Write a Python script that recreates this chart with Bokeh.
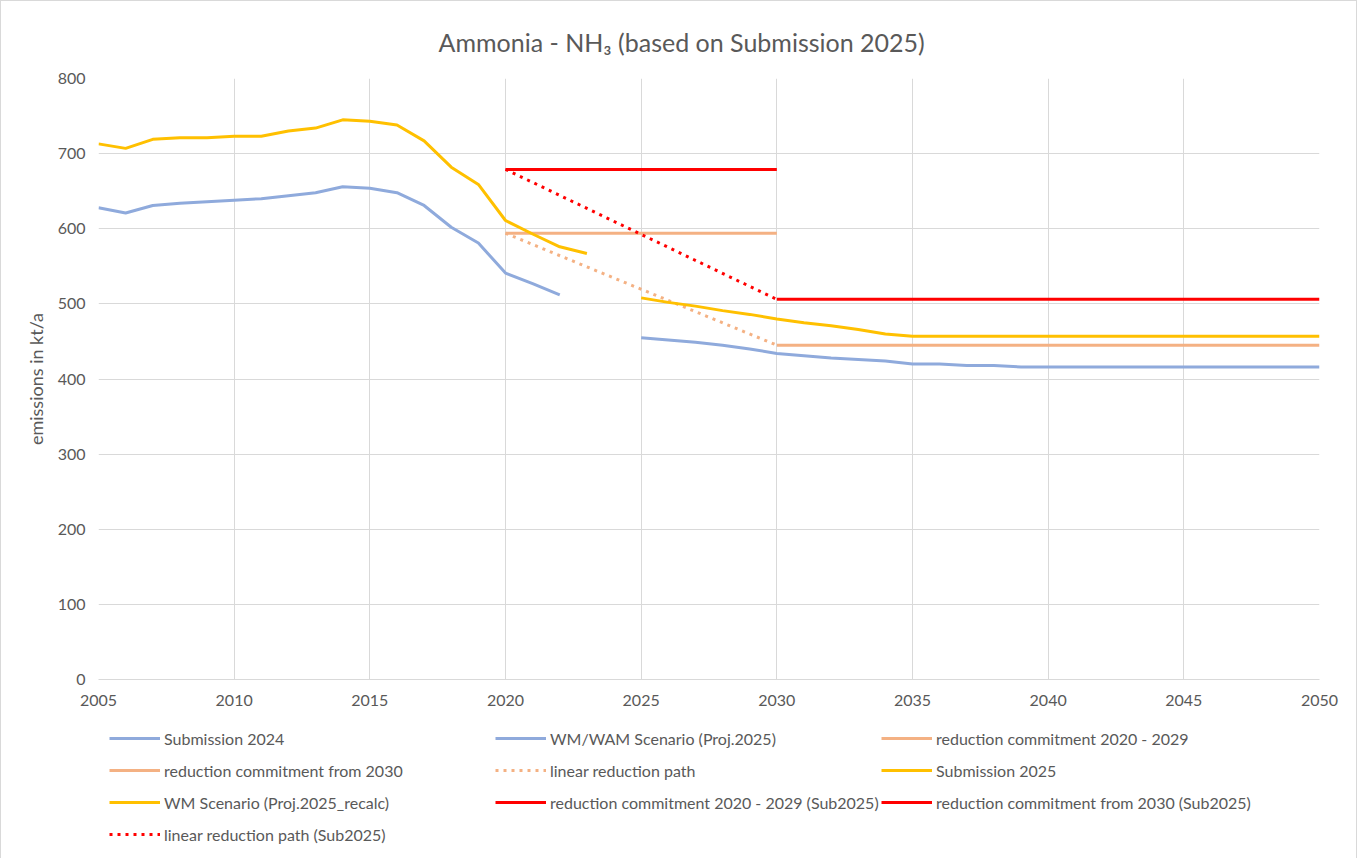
from bokeh.plotting import figure
from bokeh.layouts import column
from bokeh.models import Range1d, FixedTicker, Legend, LegendItem, Title
from bokeh.embed import file_html
from bokeh.resources import INLINE

# ---- data ----
years_sub2024 = list(range(2005, 2023))
sub2024 = [628, 621, 631, 634, 636, 638, 640, 644, 648, 656, 654, 648, 631, 602, 581, 541, 527, 512]

years_sub2025 = list(range(2005, 2024))
sub2025 = [713, 707, 719, 721, 721, 723, 723, 730, 734, 745, 743, 738, 717, 682, 659, 611, 593, 576, 567]

years_proj = list(range(2025, 2051))
wm_wam = [455, 452, 449, 445, 440, 434, 431, 428, 426, 424, 420, 420, 418, 418, 416, 416,
          416, 416, 416, 416, 416, 416, 416, 416, 416, 416]
wm_recalc = [508, 502, 497, 491, 486, 480, 475, 471, 466, 460, 457, 457, 457, 457, 457, 457,
             457, 457, 457, 457, 457, 457, 457, 457, 457, 457]

rc_2020_years = [2020, 2030]
rc_2020 = [594, 594]
rc_2030_years = [2030, 2050]
rc_2030 = [445, 445]
lin_years = [2020, 2030]
lin_path = [594, 445]

rc_2020_sub25 = [679, 679]
rc_2030_sub25 = [506, 506]
lin_path_sub25 = [679, 506]

x_ticks = [2005, 2010, 2015, 2020, 2025, 2030, 2035, 2040, 2045, 2050]
y_ticks = [0, 100, 200, 300, 400, 500, 600, 700, 800]

title_text = "Ammonia - NH\u2083 (based on Submission 2025)"

labels = ["Submission 2024", "WM/WAM Scenario (Proj.2025)", "reduction commitment 2020 - 2029",
          "reduction commitment from 2030", "linear reduction path", "Submission 2025",
          "WM Scenario (Proj.2025_recalc)", "reduction commitment 2020 - 2029 (Sub2025)",
          "reduction commitment from 2030 (Sub2025)", "linear reduction path (Sub2025)"]

BLUE = "#8FAADC"
ORANGE = "#F4B183"
YELLOW = "#FFC000"
RED = "#FF0000"
GRAY = "#595959"
GRID = "#D9D9D9"
FONT = "Lato"
W = 3
DOT = "3 5"

styles = [(BLUE, None), (BLUE, None), (ORANGE, None), (ORANGE, None), (ORANGE, DOT),
          (YELLOW, None), (YELLOW, None), (RED, None), (RED, None), (RED, DOT)]

# ---- main chart ----
p = figure(frame_width=1221, frame_height=601,
           min_border_left=97, min_border_right=37, min_border_top=77, min_border_bottom=40,
           x_range=Range1d(2005, 2050), y_range=Range1d(0, 800),
           output_backend="svg", toolbar_location=None)
p.outline_line_color = None

p.add_layout(Title(text=title_text, align="left", offset=340, standoff=44,
                   text_font=FONT, text_font_size="25px", text_font_style="normal",
                   text_color=GRAY), "above")

p.xaxis.ticker = FixedTicker(ticks=x_ticks)
p.yaxis.ticker = FixedTicker(ticks=y_ticks)
p.xgrid.ticker = FixedTicker(ticks=x_ticks)
p.ygrid.ticker = FixedTicker(ticks=y_ticks)
p.xgrid.grid_line_color = GRID
p.ygrid.grid_line_color = GRID

for ax in (p.xaxis, p.yaxis):
    ax.major_tick_line_color = None
    ax.minor_tick_line_color = None
    ax.major_label_text_font = FONT
    ax.major_label_text_font_size = "16px"
    ax.major_label_text_color = GRAY
p.xaxis.axis_line_color = GRID
p.yaxis.axis_line_color = None
p.xaxis.major_label_standoff = 9
p.yaxis.major_label_standoff = 7
p.yaxis.axis_label = "emissions in kt/a"
p.yaxis.axis_label_text_font = FONT
p.yaxis.axis_label_text_font_size = "18px"
p.yaxis.axis_label_text_font_style = "normal"
p.yaxis.axis_label_text_color = GRAY
p.yaxis.axis_label_standoff = 8

series = [(years_sub2024, sub2024), (years_proj, wm_wam), (rc_2020_years, rc_2020),
          (rc_2030_years, rc_2030), (lin_years, lin_path), (years_sub2025, sub2025),
          (years_proj, wm_recalc), (rc_2020_years, rc_2020_sub25),
          (rc_2030_years, rc_2030_sub25), (lin_years, lin_path_sub25)]

for (xs, ys), (col, dash) in zip(series, styles):
    kw = dict(line_color=col, line_width=W)
    if dash:
        kw["line_dash"] = dash
    p.line(xs, ys, **kw)

# ---- legend strip (separate figure below the chart) ----
lf = figure(width=1355, height=140, x_range=Range1d(0, 1), y_range=Range1d(0, 1),
            x_axis_type=None, y_axis_type=None, min_border=0,
            output_backend="svg", toolbar_location=None)
lf.outline_line_color = None
lf.grid.visible = False

items = []
for lab, (col, dash) in zip(labels, styles):
    kw = dict(line_color=col, line_width=W)
    if dash:
        kw["line_dash"] = dash
    # legend-only proxy glyph, kept outside the visible range
    r = lf.line([-10, -9], [-10, -9], **kw)
    items.append(LegendItem(label=lab, renderers=[r]))

legend = Legend(items=items, orientation="horizontal", ncols=3, nrows=4,
                location=(11, 9), padding=0, margin=0, spacing=0,
                glyph_width=51, glyph_height=32, label_height=32, label_width=331,
                label_standoff=4,
                label_text_font=FONT, label_text_font_size="16px", label_text_color=GRAY,
                border_line_color=None, background_fill_alpha=0)
lf.add_layout(legend, "center")

layout = column(p, lf)
layout.styles = {"border": "1px solid #D9D9D9"}

open("out.html", "w").write(file_html(layout, INLINE))
